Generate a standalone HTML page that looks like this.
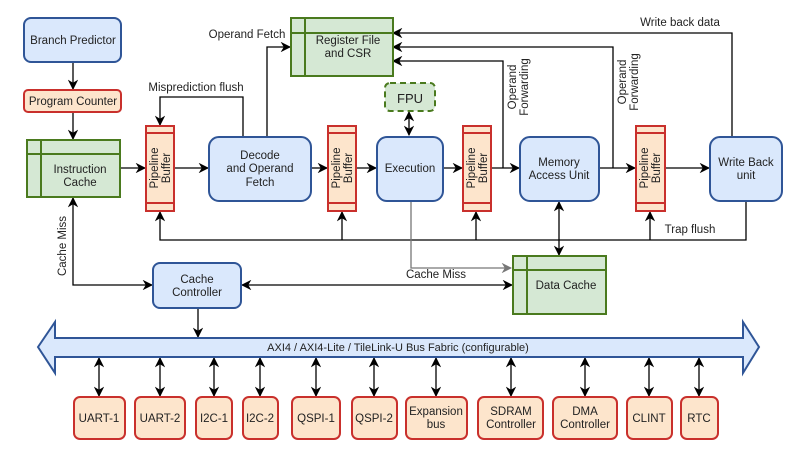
<!DOCTYPE html>
<html><head><meta charset="utf-8"><style>
html,body{margin:0;padding:0;background:#fff;}
svg{display:block;font-family:"Liberation Sans",sans-serif;}
</style></head><body>
<svg width="801" height="452" viewBox="0 0 801 452" xmlns="http://www.w3.org/2000/svg">
<defs>
<marker id="a" viewBox="0 0 10 10" refX="9" refY="5" markerWidth="8" markerHeight="8" orient="auto-start-reverse"><path d="M0,0 L10,5 L0,10 L3,5 z" fill="#000"/></marker>
<marker id="g" viewBox="0 0 10 10" refX="9" refY="5" markerWidth="8" markerHeight="8" orient="auto-start-reverse"><path d="M0,0 L10,5 L0,10 L3,5 z" fill="#777"/></marker>
</defs>
<g fill="none" stroke="#000" stroke-width="1.3">
<line x1="73" y1="62" x2="73" y2="89" marker-end="url(#a)"/>
<line x1="73" y1="112" x2="73" y2="139" marker-end="url(#a)"/>
<polyline points="73,198 73,285 152,285" marker-start="url(#a)" marker-end="url(#a)"/>
<line x1="120" y1="168" x2="145" y2="168" marker-end="url(#a)"/>
<line x1="175" y1="168" x2="208" y2="168" marker-end="url(#a)"/>
<line x1="311" y1="168" x2="327" y2="168" marker-end="url(#a)"/>
<line x1="356" y1="168" x2="376" y2="168" marker-end="url(#a)"/>
<line x1="443" y1="168" x2="462" y2="168" marker-end="url(#a)"/>
<line x1="492" y1="168" x2="519" y2="168" marker-end="url(#a)"/>
<line x1="599" y1="168" x2="635" y2="168" marker-end="url(#a)"/>
<line x1="665" y1="168" x2="709" y2="168" marker-end="url(#a)"/>
<polyline points="243,137 243,97 160,97 160,125" marker-end="url(#a)"/>
<polyline points="267,137 267,47 290,47" marker-end="url(#a)"/>
<polyline points="732,137 732,33 393,33" marker-end="url(#a)"/>
<polyline points="613,168 613,47 393,47" marker-end="url(#a)"/>
<polyline points="503,168 503,61 393,61" marker-end="url(#a)"/>
<line x1="409" y1="112" x2="409" y2="135" marker-start="url(#a)" marker-end="url(#a)"/>
<polyline points="746,201 746,240 160,240 160,212" marker-end="url(#a)"/>
<line x1="342" y1="240" x2="342" y2="212" marker-end="url(#a)"/>
<line x1="476" y1="240" x2="476" y2="212" marker-end="url(#a)"/>
<line x1="650" y1="240" x2="650" y2="212" marker-end="url(#a)"/>
<line x1="559" y1="202" x2="559" y2="255" marker-start="url(#a)" marker-end="url(#a)"/>
<polyline points="411,201 411,268 511,268" stroke="#777" marker-end="url(#g)"/>
<line x1="242" y1="285" x2="512" y2="285" marker-start="url(#a)" marker-end="url(#a)"/>
<line x1="198" y1="309" x2="198" y2="337" marker-end="url(#a)"/>
<g>
<line x1="99" y1="358" x2="99" y2="396" marker-start="url(#a)" marker-end="url(#a)"/>
<line x1="160" y1="358" x2="160" y2="396" marker-start="url(#a)" marker-end="url(#a)"/>
<line x1="214" y1="358" x2="214" y2="396" marker-start="url(#a)" marker-end="url(#a)"/>
<line x1="260" y1="358" x2="260" y2="396" marker-start="url(#a)" marker-end="url(#a)"/>
<line x1="316" y1="358" x2="316" y2="396" marker-start="url(#a)" marker-end="url(#a)"/>
<line x1="374" y1="358" x2="374" y2="396" marker-start="url(#a)" marker-end="url(#a)"/>
<line x1="436" y1="358" x2="436" y2="396" marker-start="url(#a)" marker-end="url(#a)"/>
<line x1="511" y1="358" x2="511" y2="396" marker-start="url(#a)" marker-end="url(#a)"/>
<line x1="585" y1="358" x2="585" y2="396" marker-start="url(#a)" marker-end="url(#a)"/>
<line x1="649" y1="358" x2="649" y2="396" marker-start="url(#a)" marker-end="url(#a)"/>
<line x1="699" y1="358" x2="699" y2="396" marker-start="url(#a)" marker-end="url(#a)"/>
</g>
</g>
<g fill="#dae8fc" stroke="#2f5597" stroke-width="2">
<rect x="24" y="18" width="97" height="44" rx="7"/>
<rect x="209" y="137" width="102" height="64" rx="10"/>
<rect x="377" y="137" width="66" height="64" rx="10"/>
<rect x="520" y="137" width="79" height="64" rx="10"/>
<rect x="710" y="137" width="72" height="64" rx="10"/>
<rect x="153" y="263" width="88" height="45" rx="7"/>
</g>
<rect x="24" y="90" width="97" height="22" rx="4" fill="#fde5cc" stroke="#c9302c" stroke-width="2"/>
<g fill="#fde5cc" stroke="#c9302c" stroke-width="2">
<rect x="146" y="126" width="28" height="85"/><line x1="146" y1="133" x2="174" y2="133"/><line x1="146" y1="203" x2="174" y2="203"/>
<rect x="328" y="126" width="28" height="85"/><line x1="328" y1="133" x2="356" y2="133"/><line x1="328" y1="203" x2="356" y2="203"/>
<rect x="463" y="126" width="28" height="85"/><line x1="463" y1="133" x2="491" y2="133"/><line x1="463" y1="203" x2="491" y2="203"/>
<rect x="636" y="126" width="29" height="85"/><line x1="636" y1="133" x2="665" y2="133"/><line x1="636" y1="203" x2="665" y2="203"/>
</g>
<g fill="#d5e8d4" stroke="#4a7a1e" stroke-width="2">
<rect x="27" y="140" width="93" height="57"/><line x1="41" y1="140" x2="41" y2="197"/><line x1="27" y1="154" x2="120" y2="154"/>
<rect x="291" y="18" width="102" height="58"/><line x1="305" y1="18" x2="305" y2="76"/><line x1="291" y1="33" x2="393" y2="33"/>
<rect x="513" y="256" width="93" height="58"/><line x1="527" y1="256" x2="527" y2="314"/><line x1="513" y1="270" x2="606" y2="270"/>
<rect x="385" y="83" width="50" height="28" rx="5" stroke-dasharray="6,4"/>
</g>
<path d="M38,347 L55,322 L55,338 L743,338 L743,322 L759,347 L743,373 L743,357 L55,357 L55,373 Z" fill="#dae8fc" stroke="#2f5597" stroke-width="2"/>
<g fill="#fde5cc" stroke="#c9302c" stroke-width="2">
<rect x="74" y="397" width="51" height="42" rx="6"/>
<rect x="135" y="397" width="50" height="42" rx="6"/>
<rect x="196" y="397" width="36" height="42" rx="6"/>
<rect x="243" y="397" width="35" height="42" rx="6"/>
<rect x="292" y="397" width="48" height="42" rx="6"/>
<rect x="352" y="397" width="45" height="42" rx="6"/>
<rect x="406" y="397" width="61" height="42" rx="6"/>
<rect x="478" y="397" width="65" height="42" rx="6"/>
<rect x="553" y="397" width="64" height="42" rx="6"/>
<rect x="627" y="397" width="45" height="42" rx="6"/>
<rect x="681" y="397" width="37" height="42" rx="6"/>
</g>
<g font-size="11.5" fill="#222" text-anchor="middle">
<text x="73" y="44">Branch Predictor</text>
<text x="73" y="105">Program Counter</text>
<text x="80" y="173">Instruction</text><text x="80" y="186">Cache</text>
<text x="260" y="159">Decode</text><text x="260" y="172">and Operand</text><text x="260" y="186">Fetch</text>
<text x="410" y="172">Execution</text>
<text x="559" y="166">Memory</text><text x="559" y="179">Access Unit</text>
<text x="746" y="166">Write Back</text><text x="746" y="179">unit</text>
<text x="197" y="283">Cache</text><text x="197" y="296">Controller</text>
<text x="348" y="44">Register File</text><text x="348" y="57">and CSR</text>
<text x="410" y="103" font-size="13">FPU</text>
<text x="566" y="289">Data Cache</text>
<text x="247" y="38">Operand Fetch</text>
<text x="196" y="91">Misprediction flush</text>
<text x="680" y="26">Write back data</text>
<text x="690" y="233">Trap flush</text>
<text x="436" y="278">Cache Miss</text>
<text x="398" y="351" font-size="11">AXI4 / AXI4-Lite / TileLink-U Bus Fabric (configurable)</text>
<g font-size="11.5">
<text x="99" y="422">UART-1</text>
<text x="160" y="422">UART-2</text>
<text x="214" y="422">I2C-1</text>
<text x="260" y="422">I2C-2</text>
<text x="316" y="422">QSPI-1</text>
<text x="374" y="422">QSPI-2</text>
<text x="436" y="415">Expansion</text><text x="436" y="428">bus</text>
<text x="511" y="415">SDRAM</text><text x="511" y="428">Controller</text>
<text x="585" y="415">DMA</text><text x="585" y="428">Controller</text>
<text x="649" y="422">CLINT</text>
<text x="699" y="422">RTC</text>
</g>
<g transform="translate(160,168) rotate(-90)"><text x="0" y="-2">Pipeline</text><text x="0" y="10">Buffer</text></g>
<g transform="translate(342,168) rotate(-90)"><text x="0" y="-2">Pipeline</text><text x="0" y="10">Buffer</text></g>
<g transform="translate(477,168) rotate(-90)"><text x="0" y="-2">Pipeline</text><text x="0" y="10">Buffer</text></g>
<g transform="translate(650,168) rotate(-90)"><text x="0" y="-2">Pipeline</text><text x="0" y="10">Buffer</text></g>
<g transform="translate(518,87) rotate(-90)"><text x="0" y="-2">Operand</text><text x="0" y="10">Forwarding</text></g>
<g transform="translate(628,82) rotate(-90)"><text x="0" y="-2">Operand</text><text x="0" y="10">Forwarding</text></g>
<g transform="translate(66,246) rotate(-90)"><text x="0" y="0">Cache Miss</text></g>
</g>
</svg>
</body></html>
